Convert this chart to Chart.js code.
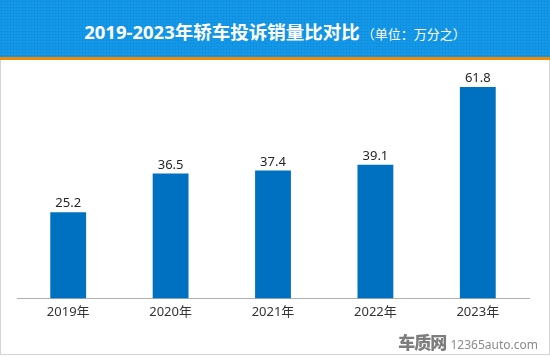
<!DOCTYPE html>
<html><head><meta charset="utf-8">
<script src="https://cdn.jsdelivr.net/npm/chart.js@4.4.0/dist/chart.umd.min.js"></script>
<style>
html,body{margin:0;padding:0;background:#fff;}
#wrap{position:relative;width:550px;height:356px;overflow:hidden;background:#fff;}
#frame{position:absolute;left:0;top:0;width:548px;height:354px;border:1px solid #d4d4d4;border-top:none;}
#hdr{position:absolute;left:0;top:0;width:550px;height:57px;background-color:#1499e8;
background-image:radial-gradient(rgba(0,80,180,0.18) 0.8px, transparent 1.2px);background-size:3px 3px;}
#bar{position:absolute;left:0;top:57px;width:550px;height:3px;background:#f08a00;}
#title{position:absolute;left:0;top:0;width:550px;height:57px;line-height:64px;text-align:center;color:#fff;
font-family:"Noto Sans","Noto Sans CJK SC",sans-serif;white-space:nowrap;}
#title b{font-size:18.5px;font-weight:bold;}
#title span{font-size:13px;margin-left:2px;}
#wm{position:absolute;right:12px;bottom:2px;color:#8a8a8a;font-family:"Noto Sans","Noto Sans CJK SC",sans-serif;white-space:nowrap;}
#wm b{font-size:17px;font-weight:900;letter-spacing:-1px;color:#7d7d7d;}
#wm span{font-size:12px;}
canvas{position:absolute;left:0;top:0;}
</style></head>
<body><div id="wrap">
<canvas id="c" width="550" height="356"></canvas>
<div id="frame"></div>
<div id="hdr"></div><div id="bar"></div>
<div id="title"><b>2019-2023年轿车投诉销量比对比</b><span>（单位：万分之）</span></div>
<div id="wm"><b>车质网</b> <span>12365auto.com</span></div>
</div>
<script>
const categories = ["2019年","2020年","2021年","2022年","2023年"];
const values = [25.2, 36.5, 37.4, 39.1, 61.8];
const yMax = 70;

const valueLabels = {
  id: 'valueLabels',
  afterDatasetsDraw(chart) {
    const ctx = chart.ctx;
    const meta = chart.getDatasetMeta(0);
    ctx.save();
    ctx.font = '13px "Noto Sans","Noto Sans CJK SC",sans-serif';
    ctx.fillStyle = '#262626';
    ctx.textAlign = 'center';
    ctx.textBaseline = 'bottom';
    meta.data.forEach((el, i) => {
      ctx.fillText(values[i].toFixed(1), el.x, el.y - 2);
    });
    ctx.restore();
  }
};

new Chart(document.getElementById('c'), {
  type: 'bar',
  data: { labels: categories, datasets: [{ data: values, backgroundColor: '#0070c0', barPercentage: 0.7, categoryPercentage: 0.5 }] },
  options: {
    responsive: false, animation: false,
    layout: { padding: { top: 59, left: 17, right: 21, bottom: 30 } },
    plugins: { legend: { display: false }, tooltip: { enabled: false } },
    scales: {
      x: { grid: { display: false, drawTicks: false }, border: { color: '#b0b0b0', width: 1 },
           ticks: { color: '#333', padding: 6, font: { size: 13, family: '"Noto Sans","Noto Sans CJK SC",sans-serif' } } },
      y: { display: false, min: 0, max: yMax }
    }
  },
  plugins: [valueLabels]
});
</script>
</body></html>
